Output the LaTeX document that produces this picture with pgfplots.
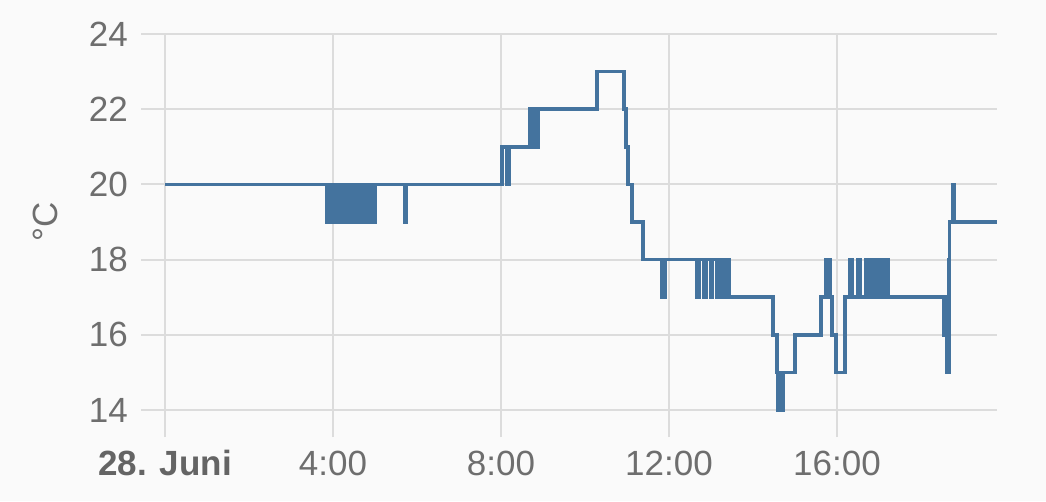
\documentclass[border=0pt]{standalone}
\usepackage{pgfplots}
\pgfplotsset{compat=1.18}
\usepackage{fontspec}
\setmainfont{Liberation Sans}
\definecolor{bg}{HTML}{FAFAFA}
\definecolor{gridc}{HTML}{DCDCDC}
\definecolor{linec}{HTML}{44739E}
\definecolor{lbl}{HTML}{6E6E6E}
\definecolor{lblb}{HTML}{646464}
\begin{document}
\begin{tikzpicture}
\fill[bg] (0pt,0pt) rectangle (1046pt,501pt);
\draw[gridc, line width=2pt] (141pt,91pt) -- (166pt,91pt);
\draw[gridc, line width=2pt] (141pt,166.2pt) -- (166pt,166.2pt);
\draw[gridc, line width=2pt] (141pt,241.4pt) -- (166pt,241.4pt);
\draw[gridc, line width=2pt] (141pt,316.6pt) -- (166pt,316.6pt);
\draw[gridc, line width=2pt] (141pt,391.8pt) -- (166pt,391.8pt);
\draw[gridc, line width=2pt] (141pt,467pt) -- (166pt,467pt);
\draw[gridc, line width=2pt] (165pt,64pt) -- (165pt,92pt);
\draw[gridc, line width=2pt] (333pt,64pt) -- (333pt,92pt);
\draw[gridc, line width=2pt] (501pt,64pt) -- (501pt,92pt);
\draw[gridc, line width=2pt] (669pt,64pt) -- (669pt,92pt);
\draw[gridc, line width=2pt] (837pt,64pt) -- (837pt,92pt);
\begin{axis}[
  at={(165pt,91pt)}, anchor=south west,
  scale only axis, width=832pt, height=376pt,
  xmin=0, xmax=19.81, ymin=14, ymax=24,
  axis line style={draw=none},
  grid=major, major grid style={gridc, line width=2pt},
  xtick={0,4,8,12,16},
  xticklabels={\textcolor{lblb}{\textbf{28. Juni}},4:00,8:00,12:00,16:00},
  ytick={14,16,...,24},
  tick pos=left,
  tick align=outside,
  major tick length=25pt,
  tick style={draw=none},
  /pgf/number format/assume math mode=true,
  ticklabel style={font=\fontsize{35}{40}\selectfont, text=lbl, inner sep=0pt},
  yticklabel style={anchor=east, xshift=-12pt},
  xticklabel style={anchor=base, yshift=-40pt},
  ylabel={°C},
  ylabel style={font=\fontsize{35}{40}\selectfont, text=lbl, at={(axis description cs:-0.144,0.5)}, anchor=center},
  clip=false,
]
\addplot[const plot, linec, line width=3.6pt, line join=miter] coordinates {
(0,20)
(3.86,19) (3.92,20) (3.98,19) (4.04,20) (4.10,19) (4.16,20) (4.22,19) (4.28,20)
(4.34,19) (4.40,20) (4.46,19) (4.52,20) (4.58,19) (4.64,20) (4.70,19) (4.76,20)
(4.82,19) (4.88,20) (4.94,19) (5.00,20)
(5.71,19) (5.75,20)
(8.02,21) (8.14,20) (8.19,21)
(8.69,22) (8.74,21) (8.79,22) (8.84,21) (8.88,22)
(10.29,23) (10.93,22) (10.98,21) (11.02,20) (11.12,19) (11.38,18)
(11.83,17) (11.90,18)
(12.67,17) (12.72,18)
(12.83,17) (12.88,18)
(12.99,17) (13.04,18)
(13.14,17) (13.19,18)
(13.29,17) (13.34,18)
(13.43,17)
(14.48,16) (14.57,15) (14.59,14) (14.63,15) (14.67,14) (14.71,15)
(15.00,16) (15.62,17) (15.74,18) (15.83,17) (15.88,16) (15.98,15) (16.19,17)
(16.31,18) (16.36,17) (16.50,18) (16.55,17)
(16.69,18) (16.75,17) (16.81,18) (16.87,17) (16.93,18) (16.99,17) (17.05,18) (17.11,17) (17.17,18) (17.22,17)
(18.55,16) (18.58,17) (18.60,16) (18.62,15) (18.66,18) (18.68,19) (18.75,20) (18.79,19)
(19.81,19)
};
\end{axis}
\end{tikzpicture}
\end{document}
